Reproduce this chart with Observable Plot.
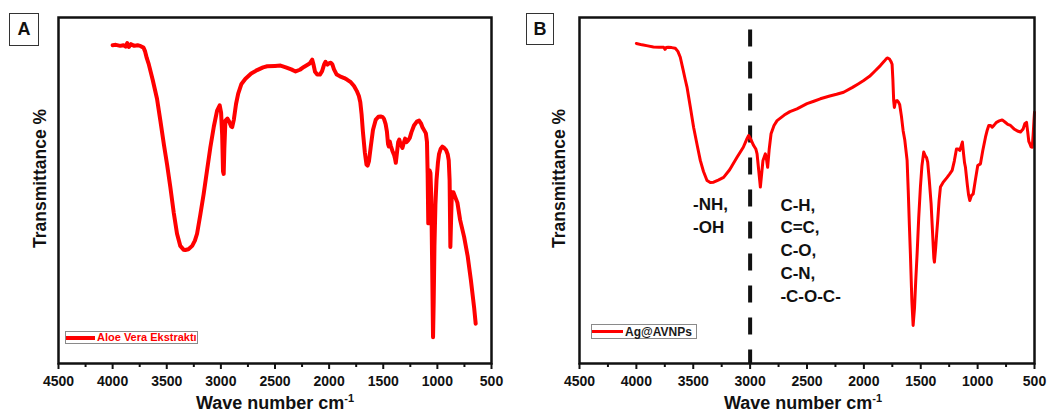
<!DOCTYPE html>
<html>
<head>
<meta charset="utf-8">
<script src="https://cdn.jsdelivr.net/npm/d3@7"></script>
<script src="https://cdn.jsdelivr.net/npm/@observablehq/plot@0.6"></script>
<style>
  body { margin: 0; background: #fff; font-family: "Liberation Sans", Arial, sans-serif; }
  #wrap { position: relative; width: 1050px; height: 412px; display: flex; overflow: hidden; }
  .panel { position: relative; height: 412px; }
  .tag { position: absolute; box-sizing: border-box; border: 1px solid #333; background: #fff;
         font: bold 18px "Liberation Sans", Arial, sans-serif; color: #111;
         display: flex; align-items: center; justify-content: center; }
  .legend { position: absolute; box-sizing: border-box; border: 1px solid #8a8a8a; background: #fff;
            display: flex; align-items: center; white-space: nowrap; }
  .legend .sw { display: inline-block; background: #f00; margin-left: 0; }
  .legend .lt { font-family: "Liberation Sans", Arial, sans-serif; font-weight: bold; margin-left: 2px; line-height: 1; }
</style>
</head>
<body>
<div id="wrap"></div>
<script>
// ---- data ----
const majorTicks = [4500, 4000, 3500, 3000, 2500, 2000, 1500, 1000, 500];
const minorTicks = [4250, 3750, 3250, 2750, 2250, 1750, 1250, 750];

const waveA = [4000,3970,3930,3900,3880,3865,3850,3830,3800,3770,3740,3715,3700,3685,3667,3630,3590,3559,3525,3497,3467,3435,3405,3375,3345,3328,3300,3265,3240,3220,3190,3159,3127,3097,3065,3035,3011,2998,2988,2980,2974,2968,2958,2940,2925,2905,2896,2880,2860,2840,2810,2773,2720,2665,2610,2572,2500,2449,2400,2350,2310,2270,2233,2180,2156,2145,2130,2110,2085,2065,2045,2033,2015,2000,1985,1971,1955,1930,1900,1860,1832,1800,1770,1745,1725,1712,1700,1688,1670,1655,1645,1632,1616,1595,1570,1545,1524,1505,1493,1478,1466,1456,1448,1440,1431,1416,1400,1390,1384,1375,1362,1352,1340,1323,1308,1298,1285,1270,1255,1240,1216,1190,1169,1150,1138,1120,1106,1096,1090,1084,1079,1072,1064,1056,1048,1040,1034,1027,1018,1008,995,985,970,954,940,920,905,895,887,880,873,866,852,840,815,790,753,720,690,660,646];
const transA = [92.0,92.1,91.8,92.0,91.6,92.6,91.5,92.3,91.8,92.0,91.7,91.3,90.2,88.3,86.6,82.0,76.5,70.2,63,57.5,51,43.5,37.5,34,32.9,32.8,33.0,34.0,35.5,37.5,43,49,56,62.5,68.5,73.1,74.6,72.5,66,55.5,54.8,62,70.2,70.8,70.0,68.5,68.3,70.5,75,78,80.8,82.3,83.8,84.8,85.6,85.9,86.0,86.1,85.6,85.0,84.4,84.9,85.7,86.7,87.8,86.5,84.3,83.5,83.5,84.5,86.5,87.2,86.4,86.8,86.9,86.5,85.0,83.5,83.0,82.5,82.0,81.3,80.2,78.8,77.3,75.5,72,67,61,57.5,57.2,58.5,62.5,67.5,70.4,71.3,71.4,71.2,70.7,69.2,67,63.5,62.7,64.2,63.0,61.5,60.3,59,58.0,60.5,64,64.7,63.4,62.3,64,65,64.0,64.5,65.2,66.8,68.8,69.9,70.2,69.3,68.3,67.3,66.5,64,55,40.5,45,55.8,55,48,28,7.6,18,34,46,53,58,60.5,62.0,62.7,62.4,61.7,60.5,58.7,53,33.7,42,49.5,49.5,48.5,46.5,41.5,36.6,31,24,16,11.5];

const waveB = [4000,3950,3900,3850,3800,3760,3748,3738,3720,3690,3658,3635,3614,3590,3570,3555,3525,3497,3465,3438,3410,3379,3350,3321,3280,3233,3180,3115,3060,3030,3013,2990,2969,2950,2939,2925,2910,2898,2887,2866,2856,2846,2832,2816,2790,2763,2700,2650,2588,2500,2440,2383,2300,2240,2178,2100,2050,2002,1950,1900,1855,1820,1800,1791,1775,1762,1752,1745,1738,1732,1722,1708,1695,1685,1670,1655,1640,1628,1620,1610,1600,1591,1578,1567,1555,1544,1532,1518,1503,1490,1474,1460,1449,1439,1425,1409,1395,1385,1380,1370,1360,1351,1339,1327,1300,1268,1245,1224,1205,1186,1170,1157,1145,1134,1125,1115,1107,1090,1080,1069,1055,1039,1020,999,975,955,931,915,902,888,872,855,834,810,784,760,735,711,680,650,623,600,585,570,560,550,541,530,520,512,505,500];
const transB = [92.5,92.1,91.8,91.5,91.4,91.4,90.8,91.3,91.4,91.3,91.1,90.2,88.5,85,82,79.9,74,68.3,63,58.7,55.5,52.9,52.3,52.4,53.0,53.8,56,59.6,62.5,64.8,65.9,64.5,63.0,62.0,60.6,56,51.0,55,58.7,60.6,59,56.7,62,66.4,68.8,70.2,71.8,72.8,73.6,75.1,75.8,76.5,77.3,77.8,78.4,79.8,80.8,81.8,83,84.6,86.1,87.4,88.2,88.3,88.0,87.3,86.5,82,76,74.0,75.8,76.0,75.5,74.8,71.5,67.3,64.5,61,58.7,50,40,31.7,18,11,16,24,31.7,42,51,57,61.1,60.0,59.5,58.2,53,46.2,37,30.5,29.3,33,37.5,41.3,47,51,52.5,53.8,54.8,55.8,58.5,62,62,61.6,62.8,64,61,58,56.7,51.5,48.8,47.1,48.5,49.0,53,57.2,57.7,61.5,65.4,67.5,68.8,68.8,68.3,68.9,69.7,70.1,70.4,69.8,69.1,68.8,67.8,67.2,66.9,67.8,69.3,69.7,67,64.2,63.5,62.6,62.5,66,70,72.6];

const annLabels = ["-NH,", "-OH", "C-H,", "C=C,", "C-O,", "C-N,", "-C-O-C-"];
const annWave   = [3502, 3502, 2734, 2734, 2734, 2734, 2734];
const annTrans  = [46.0, 39.4, 45.7, 39.2, 32.7, 25.9, 19.4];
const dividerWave = [3000];

// ---- drawing ----
const FONT = "Liberation Sans, Arial, sans-serif";
const wrap = document.getElementById("wrap");

function makePanel({width, marginLeft, marginRight, tag, tagBox, legendText, legendBox, legendColor, legendFont, swatch, wave, trans, lineWidth, extra, xTitleDx, yTitleDx}) {
  const panel = document.createElement("div");
  panel.className = "panel";
  panel.style.width = width + "px";
  const data = wave.map((w, i) => ({w, t: trans[i]}));
  const plot = Plot.plot({
    width, height: 412,
    marginLeft, marginRight, marginTop: 17, marginBottom: 49,
    style: {fontFamily: FONT, background: "white", color: "#111", overflow: "visible"},
    x: {domain: [4500, 500], axis: null},
    y: {domain: [0, 100], axis: null},
    marks: [
      ...extra,
      Plot.line(data, {x: "w", y: "t", stroke: "#f00", strokeWidth: lineWidth, strokeLinejoin: "round", strokeLinecap: "round"}),
      Plot.frame({stroke: "#111", strokeWidth: 2.5}),
      Plot.axisX({ticks: minorTicks, tickSize: 4, tickFormat: () => "", strokeWidth: 2, stroke: "#111", label: null}),
      Plot.axisX({ticks: majorTicks, tickSize: 6, tickPadding: 7, tickFormat: "d", strokeWidth: 2, stroke: "#111",
                  fontSize: 14, fontWeight: "bold", fill: "#111", label: null}),
      Plot.text(["Wave number cm"], {frameAnchor: "bottom", textAnchor: "middle", dy: 45, dx: xTitleDx, fontSize: 18, fontWeight: "bold", fill: "#111"}),
      Plot.text(["Transmittance %"], {frameAnchor: "left", textAnchor: "middle", dx: yTitleDx, dy: -12, rotate: -90, fontSize: 17.5, fontWeight: "bold", fill: "#111"})
    ]
  });
  d3.select(plot).selectAll("text")
    .filter(function() { return this.textContent === "Wave number cm"; })
    .append("tspan").attr("dy", "-0.6em").attr("font-size", "11px").text("-1");
  panel.appendChild(plot);

  const t = document.createElement("div");
  t.className = "tag";
  Object.assign(t.style, {left: tagBox[0] + "px", top: tagBox[1] + "px", width: tagBox[2] + "px", height: tagBox[3] + "px"});
  t.textContent = tag;
  panel.appendChild(t);

  const lg = document.createElement("div");
  lg.className = "legend";
  Object.assign(lg.style, {left: legendBox[0] + "px", top: legendBox[1] + "px", width: legendBox[2] + "px", height: legendBox[3] + "px"});
  const sw = document.createElement("span");
  sw.className = "sw";
  sw.style.width = swatch[0] + "px";
  sw.style.height = swatch[1] + "px";
  const lt = document.createElement("span");
  lt.className = "lt";
  lt.style.color = legendColor;
  lt.style.fontSize = legendFont + "px";
  lt.textContent = legendText;
  lg.appendChild(sw); lg.appendChild(lt);
  panel.appendChild(lg);

  wrap.appendChild(panel);
}

const ann = annLabels.map((s, i) => ({s, w: annWave[i], t: annTrans[i]}));

makePanel({
  width: 520, marginLeft: 58, marginRight: 29,
  tag: "A", tagBox: [9, 13, 30, 33],
  legendText: "Aloe Vera Ekstraktı", legendBox: [65, 331, 133, 13], legendColor: "#f00", legendFont: 11, swatch: [29, 4],
  wave: waveA, trans: transA, lineWidth: 4, extra: [], xTitleDx: 0, yTitleDx: -18
});

makePanel({
  width: 530, marginLeft: 59, marginRight: 16,
  tag: "B", tagBox: [6, 13, 28, 32],
  legendText: "Ag@AVNPs", legendBox: [71, 324, 106, 15], legendColor: "#1a1a1a", legendFont: 12, swatch: [31, 2.5],
  wave: waveB, trans: transB, lineWidth: 3, xTitleDx: -4, yTitleDx: -20,
  extra: [
    Plot.ruleX(dividerWave, {y1: 96.4, y2: 0, stroke: "#111", strokeWidth: 4, strokeDasharray: "17,15"}),
    Plot.text(ann, {x: "w", y: "t", text: "s", textAnchor: "start", fontSize: 17, fontWeight: "bold", fill: "#111"})
  ]
});
</script>
</body>
</html>
